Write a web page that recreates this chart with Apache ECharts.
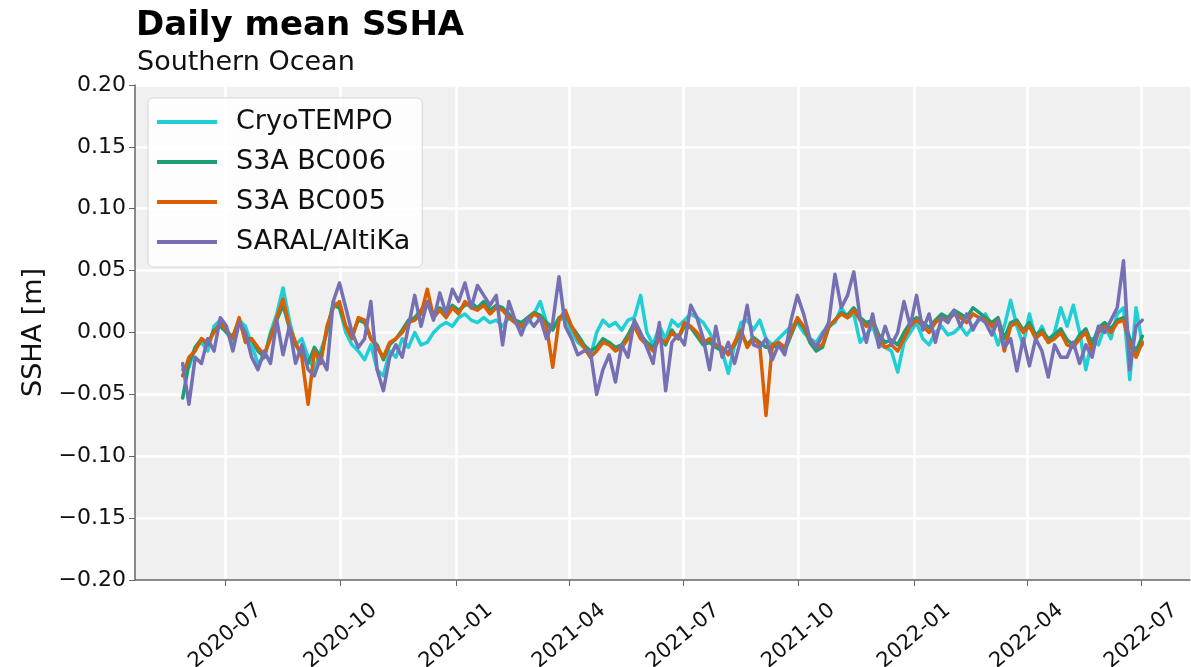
<!DOCTYPE html>
<html>
<head>
<meta charset="utf-8">
<script src="https://cdn.jsdelivr.net/npm/echarts@6/dist/echarts.min.js"></script>
<style>
  html, body { margin: 0; padding: 0; background: #fff; }
  #chart { width: 1191px; height: 667px; }
</style>
</head>
<body>
<div id="chart"></div>
<script>
// samples every 5 days from 2020-05-28
const startDate = '2020-05-28';
const stepDays = 5;

const tickLabels = ['2020-07', '2020-10', '2021-01', '2021-04', '2021-07', '2021-10', '2022-01', '2022-04', '2022-07'];
const yTicks = [-0.20, -0.15, -0.10, -0.05, 0.00, 0.05, 0.10, 0.15, 0.20];

const cryoTempo = [
  -0.030, -0.028, -0.012, -0.008, -0.015, 0.005, 0.010, 0.000, -0.008, 0.010,
  0.005, -0.010, -0.025, -0.020, 0.000, 0.015, 0.036, 0.010, -0.010, -0.005,
  -0.020, -0.030, -0.015, 0.000, 0.025, 0.020, 0.000, -0.010, -0.015, -0.022,
  -0.010, -0.030, -0.035, -0.015, -0.020, -0.005, -0.012, 0.000, -0.010, -0.008,
  0.000, 0.005, 0.008, 0.005, 0.012, 0.015, 0.010, 0.008, 0.012, 0.008,
  0.010, 0.005, 0.012, 0.008, 0.002, 0.008, 0.015, 0.025, 0.008, 0.005,
  0.010, 0.012, 0.000, -0.008, -0.012, -0.020, 0.000, 0.010, 0.005, 0.008,
  0.002, 0.010, 0.012, 0.030, 0.000, -0.010, 0.005, -0.005, 0.010, 0.005,
  0.010, 0.015, 0.012, 0.008, 0.000, -0.010, -0.015, -0.033, -0.010, 0.008,
  0.010, 0.002, 0.010, -0.005, -0.010, -0.005, 0.000, 0.005, 0.008, 0.000,
  -0.005, -0.008, 0.000, 0.005, 0.008, 0.020, 0.012, 0.015, -0.008, -0.002,
  0.005, -0.010, -0.012, -0.015, -0.032, -0.008, 0.000, 0.008, -0.005, -0.010,
  0.000, 0.005, -0.002, 0.000, 0.005, -0.002, 0.005, 0.010, 0.015, 0.005,
  -0.010, 0.005, 0.026, 0.005, -0.010, 0.015, -0.005, 0.005, -0.008, 0.000,
  0.020, 0.005, 0.022, 0.000, -0.030, -0.005, -0.010, 0.005, -0.005, 0.015,
  0.020, -0.038, 0.020, -0.010
];

const s3aBC006 = [
  -0.053, -0.025, -0.012, -0.005, -0.010, 0.002, 0.005, 0.000, -0.003, 0.010,
  -0.005, -0.005, -0.015, -0.020, -0.002, 0.010, 0.022, 0.004, -0.010, -0.018,
  -0.025, -0.012, -0.020, 0.002, 0.022, 0.020, 0.005, -0.002, 0.010, 0.008,
  -0.005, -0.010, -0.022, -0.010, -0.005, 0.002, 0.010, 0.012, 0.018, 0.025,
  0.014, 0.020, 0.015, 0.022, 0.018, 0.022, 0.024, 0.020, 0.025, 0.018,
  0.022, 0.020, 0.015, 0.010, 0.008, 0.012, 0.016, 0.014, 0.008, 0.002,
  0.012, 0.015, 0.005, -0.002, -0.010, -0.015, -0.012, -0.005, -0.008, -0.012,
  -0.010, -0.002, 0.008, -0.002, -0.008, -0.012, -0.003, -0.010, 0.002, -0.005,
  0.005, 0.004, -0.003, -0.010, -0.008, -0.012, -0.015, -0.016, -0.010, 0.000,
  -0.010, -0.004, -0.008, -0.012, -0.012, -0.010, -0.015, -0.002, 0.010, 0.004,
  -0.008, -0.015, -0.012, 0.004, 0.010, 0.016, 0.014, 0.020, 0.012, 0.008,
  0.010, -0.002, -0.008, -0.006, -0.010, 0.000, 0.008, 0.012, 0.008, 0.004,
  0.010, 0.015, 0.012, 0.018, 0.015, 0.012, 0.020, 0.016, 0.012, 0.008,
  0.012, -0.005, 0.008, 0.010, 0.002, 0.008, -0.002, 0.002, -0.005, -0.002,
  0.003, -0.006, -0.010, -0.002, 0.003, -0.010, 0.004, 0.008, 0.003, 0.010,
  0.012, -0.005, -0.015, -0.003
];

const s3aBC005 = [
  -0.035, -0.020, -0.015, -0.005, -0.008, 0.000, 0.008, 0.002, -0.005, 0.012,
  -0.008, -0.005, -0.012, -0.018, -0.005, 0.012, 0.027, 0.005, -0.008, -0.020,
  -0.058, -0.015, -0.025, 0.005, 0.020, 0.025, 0.005, -0.005, 0.012, 0.010,
  -0.005, -0.012, -0.020, -0.008, -0.005, 0.000, 0.008, 0.010, 0.015, 0.035,
  0.012, 0.018, 0.012, 0.020, 0.015, 0.025, 0.020, 0.018, 0.022, 0.015,
  0.020, 0.018, 0.012, 0.008, 0.005, 0.010, 0.015, 0.012, 0.005, -0.028,
  0.010, 0.018, 0.005, -0.005, -0.012, -0.020, -0.015, -0.008, -0.010, -0.015,
  -0.012, -0.005, 0.005, -0.005, -0.010, -0.015, -0.005, -0.008, 0.000, -0.005,
  0.008, 0.005, 0.000, -0.008, -0.005, -0.010, -0.012, -0.018, -0.008, 0.002,
  -0.012, -0.005, -0.010, -0.067, -0.010, -0.008, -0.012, 0.000, 0.012, 0.005,
  -0.005, -0.012, -0.010, 0.005, 0.010, 0.015, 0.012, 0.018, 0.010, 0.005,
  0.008, -0.005, -0.012, -0.010, -0.015, -0.005, 0.005, 0.010, 0.005, 0.000,
  0.008, 0.012, 0.010, 0.015, 0.012, 0.008, 0.015, 0.012, 0.010, 0.005,
  0.010, -0.015, 0.005, 0.008, 0.000, 0.005, -0.005, 0.000, -0.008, -0.005,
  0.000, -0.010, -0.012, -0.005, 0.000, -0.015, 0.000, 0.005, 0.000, 0.008,
  0.010, -0.010, -0.020, -0.008
];

const saral = [
  -0.025, -0.058, -0.020, -0.025, -0.005, -0.015, 0.012, 0.005, -0.015, 0.008,
  0.000, -0.020, -0.030, -0.015, -0.025, 0.010, -0.018, 0.005, -0.025, -0.010,
  -0.030, -0.035, -0.020, -0.030, 0.025, 0.040, 0.020, 0.000, -0.012, -0.005,
  0.025, -0.030, -0.047, -0.020, -0.010, -0.020, 0.005, 0.030, 0.005, 0.025,
  0.010, 0.032, 0.015, 0.035, 0.025, 0.040, 0.020, 0.038, 0.030, 0.022,
  0.030, -0.010, 0.025, 0.010, -0.002, 0.012, 0.005, 0.012, -0.005, 0.008,
  0.045, 0.005, -0.005, -0.018, -0.015, -0.015, -0.050, -0.030, -0.018, -0.040,
  -0.010, -0.020, 0.010, 0.000, -0.012, -0.025, 0.008, -0.047, -0.008, -0.002,
  -0.010, 0.022, 0.012, -0.005, -0.030, 0.005, -0.020, -0.008, -0.025, -0.005,
  0.022, -0.010, -0.012, -0.005, -0.022, -0.010, -0.018, 0.010, 0.030, 0.015,
  -0.005, -0.012, -0.002, 0.008, 0.047, 0.020, 0.030, 0.049, 0.012, -0.008,
  0.015, -0.012, 0.005, -0.010, 0.000, 0.025, 0.005, 0.030, 0.002, 0.015,
  -0.008, 0.012, 0.008, 0.018, 0.005, 0.015, 0.002, 0.012, 0.008, -0.002,
  0.010, -0.012, -0.005, -0.031, -0.005, -0.027, -0.005, -0.015, -0.036, -0.010,
  -0.020, -0.020, -0.008, -0.025, -0.010, -0.020, 0.005, 0.000, 0.010, 0.020,
  0.058, -0.030, 0.005, 0.010
];

const seriesNames = ['CryoTEMPO', 'S3A BC006', 'S3A BC005', 'SARAL/AltiKa'];
const seriesColors = ['#1fcfd6', '#1b9e77', '#d95f02', '#7570b3'];

const DAY = 86400000;
const t0 = Date.parse(startDate + 'T00:00:00Z');
function toPairs(vals) {
  return vals.map(function (v, i) { return [t0 + i * stepDays * DAY, v]; });
}
const tickValues = tickLabels.map(function (s) {
  return Date.UTC(+s.slice(0, 4), +s.slice(5, 7) - 1, 1);
});

const font = 'DejaVu Sans';
const chart = echarts.init(document.getElementById('chart'));

chart.setOption({
  animation: false,
  backgroundColor: '#ffffff',
  title: [
    { text: 'Daily mean SSHA', left: 131, top: 4,
      textStyle: { fontFamily: font, fontSize: 34, fontWeight: 'bold', color: '#000' } },
    { text: 'Southern Ocean', left: 132, top: 44,
      textStyle: { fontFamily: font, fontSize: 27, fontWeight: 'normal', color: '#111' } }
  ],
  legend: {
    orient: 'vertical',
    left: 148, top: 98,
    icon: 'rect',
    itemWidth: 60, itemHeight: 4,
    itemGap: 10,
    padding: [9, 12, 10, 9],
    backgroundColor: 'rgba(255,255,255,0.85)',
    borderColor: '#d6d6d6', borderWidth: 1, borderRadius: 5,
    textStyle: { fontFamily: font, fontSize: 27, color: '#111', lineHeight: 30, padding: [0, 0, 0, 14] },
    data: seriesNames
  },
  grid: {
    left: 135, right: 1, top: 85, bottom: 87,
    outerBoundsMode: 'none', containLabel: false,
    backgroundColor: '#f0f0f0', show: true, borderWidth: 0
  },
  xAxis: {
    type: 'value',
    min: Date.UTC(2020, 3, 20),
    max: Date.UTC(2022, 7, 9),
    axisLine: { onZero: false, lineStyle: { color: '#666', width: 1.5 } },
    axisTick: { show: true, length: 6, lineStyle: { color: '#666' }, customValues: tickValues },
    splitLine: { show: true, lineStyle: { color: '#ffffff', width: 2.5 } },
    axisLabel: {
      customValues: tickValues,
      rotate: 40, align: 'center', verticalAlign: 'middle', margin: 56,
      fontFamily: font, fontSize: 21, color: '#111',
      formatter: function (v) {
        const k = tickValues.indexOf(v);
        return k >= 0 ? tickLabels[k] : '';
      }
    }
  },
  yAxis: {
    type: 'value',
    min: yTicks[0], max: yTicks[yTicks.length - 1], interval: 0.05,
    name: 'SSHA [m]', nameLocation: 'middle', nameRotate: 90, nameGap: 86,
    nameTextStyle: { fontFamily: font, fontSize: 27, color: '#111' },
    axisLine: { show: true, lineStyle: { color: '#666', width: 1.5 } },
    axisTick: { show: true, length: 6, lineStyle: { color: '#666' } },
    splitLine: { show: true, lineStyle: { color: '#ffffff', width: 2.5 } },
    axisLabel: {
      fontFamily: font, fontSize: 22, color: '#111', margin: 9,
      formatter: function (v) { return (v < 0 ? '\u2212' : '') + Math.abs(v).toFixed(2); }
    }
  },
  series: [cryoTempo, s3aBC006, s3aBC005, saral].map(function (vals, k) {
    return {
      name: seriesNames[k],
      type: 'line',
      data: toPairs(vals),
      showSymbol: false,
      symbol: 'none',
      color: seriesColors[k],
      lineStyle: { width: 3.5, color: seriesColors[k], join: 'round', cap: 'round' }
    };
  })
});
</script>
</body>
</html>
